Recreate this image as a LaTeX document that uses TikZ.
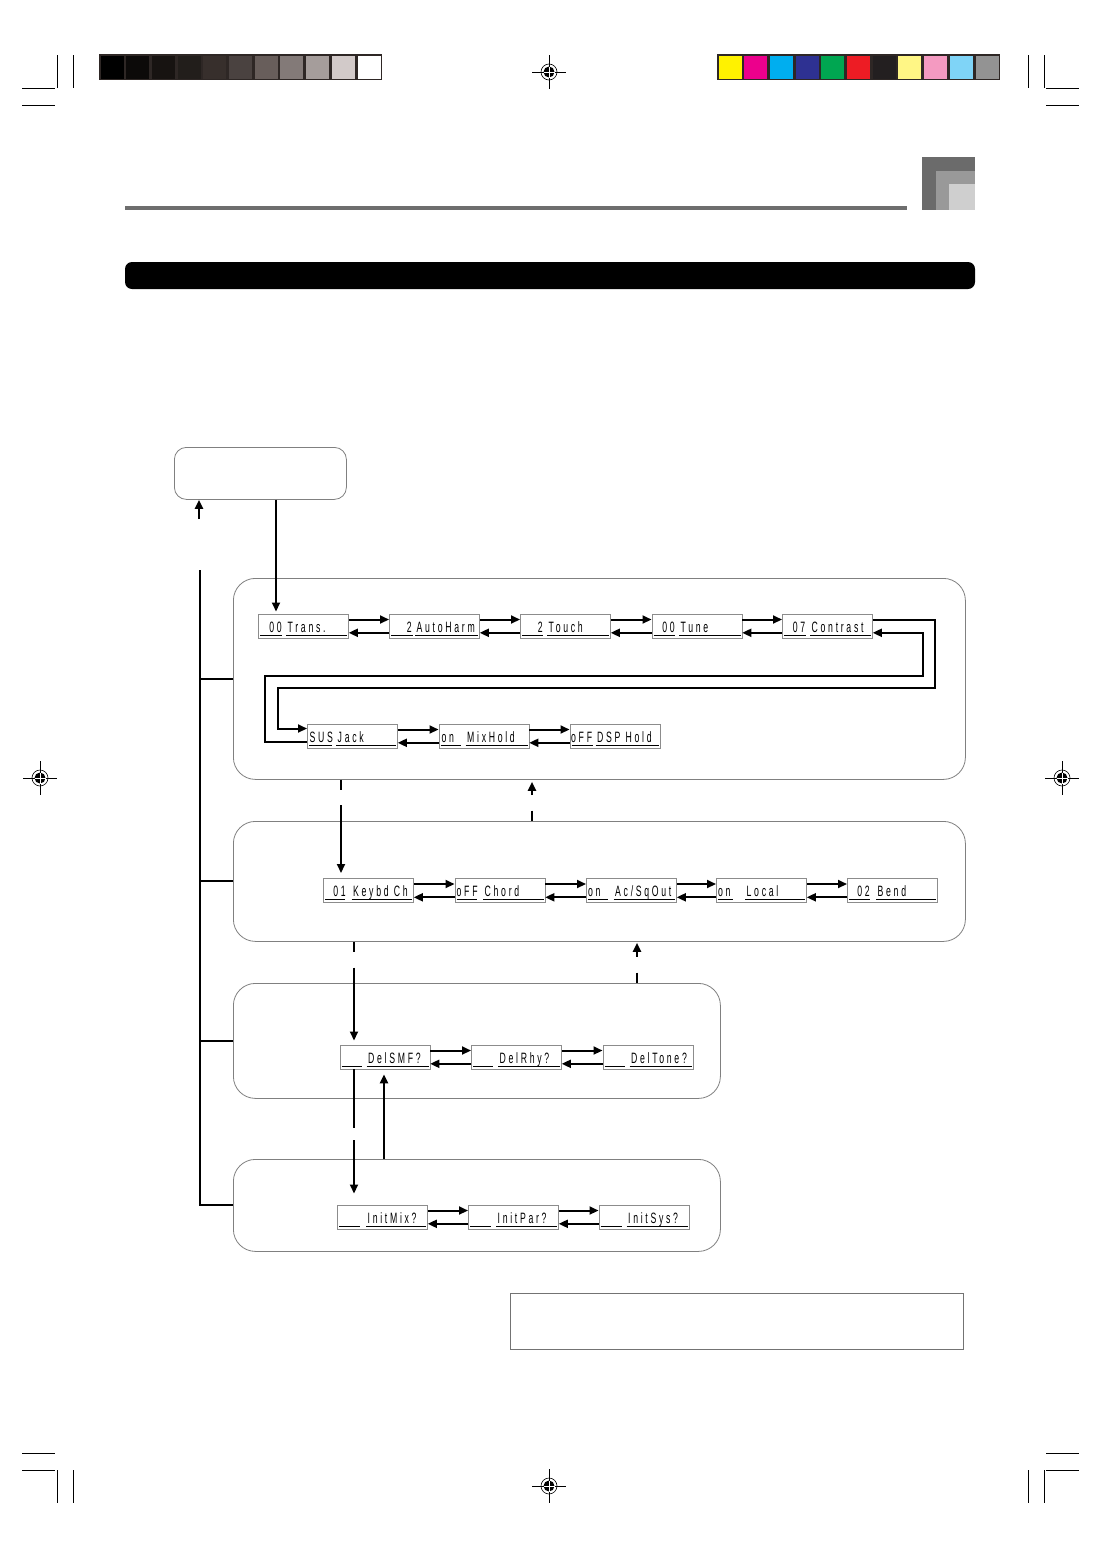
\documentclass[tikz,border=0pt]{standalone}
\usepackage{fontspec}
\usetikzlibrary{arrows.meta,calc}
\newfontfamily\lcdf[FakeStretch=0.58,LetterSpace=18]{Liberation Sans}

\tikzset{
 lcdbox/.style={draw=black!45, line width=0.8pt, minimum width=90pt, minimum height=24pt, inner sep=0pt, anchor=north west},
 uline/.style={line width=0.8pt},
 lcdtxt/.style={inner sep=0pt, font=\lcdf\fontsize{15}{15}\selectfont},
 arr/.style={line width=2pt, -{Triangle[length=9pt,width=8pt]}},
 ln/.style={line width=2pt},
 grp/.style={draw=black!50, line width=0.8pt, rounded corners=22pt, anchor=north west, inner sep=0pt},
 crop/.style={line width=0.7pt},
}

% name, x0, ytop, u1end, u2start, vdx, vanchor, value, label
\newcommand\lcd[9]{%
 \node[lcdbox] (#1) at (#2,#3) {};
 \draw[uline] ({#2+2},{#3+21.5}) -- ({#2+#4},{#3+21.5});
 \draw[uline] ({#2+#5},{#3+21.5}) -- ({#2+89},{#3+21.5});
 \node[lcdtxt, anchor=base #7] (#1v) at ({#2+#6},{#3+18.5}) {#8};
 \node[lcdtxt, anchor=base west] (#1l) at ({#2+#5+1.5},{#3+18.5}) {#9};
}
\newcommand\lcdpair[2]{%
 \draw[arr] ($(#1.north east)+(0,6)$) -- ($(#2.north west)+(0,6)$);
 \draw[arr] ($(#2.south west)+(0,-5.5)$) -- ($(#1.south east)+(0,-5.5)$);
}
\newcommand\regmark[2]{%
 \draw[line width=0.6pt] ({#1-17},#2) -- ({#1+17},#2) (#1,{#2-17}) -- (#1,{#2+17});
 \draw[line width=0.6pt] (#1,#2) circle[radius=8pt];
 \fill (#1,#2) circle[radius=5.5pt];
 \draw[white,line width=0.7pt] ({#1-5.5},#2) -- ({#1+5.5},#2) (#1,{#2-5.5}) -- (#1,{#2+5.5});
}

\begin{document}
\begin{tikzpicture}[x=1pt,y=-1pt]
\useasboundingbox (0,0) rectangle (1101,1558);
\fill[white] (0,0) rectangle (1101,1558);

% ---- crop marks
\draw[crop] (57,55) -- (57,88) (73,55) -- (73,88) (22,88) -- (55,88) (22,105) -- (55,105);
\draw[crop] (1044,55) -- (1044,88) (1028,55) -- (1028,88) (1046,88) -- (1079,88) (1046,105) -- (1079,105);
\draw[crop] (57,1470) -- (57,1503) (73,1470) -- (73,1503) (22,1470) -- (55,1470) (22,1453) -- (55,1453);
\draw[crop] (1044,1470) -- (1044,1503) (1028,1470) -- (1028,1503) (1046,1470) -- (1079,1470) (1046,1453) -- (1079,1453);

% ---- registration marks
\regmark{549}{72}
\regmark{549}{1486}
\regmark{40}{778}
\regmark{1062}{778}

% ---- gray and colour bars
\definecolor{barframe}{HTML}{2E2725}
\fill[barframe] (99,54) rectangle (382,80);
\foreach \c [count=\i from 0] in {000000,0C0A09,171311,221E1B,372F2C,4A4240,685E5B,837A78,A59D9B,D2CAC9,FFFFFF}{
  \definecolor{tmpc}{HTML}{\c}
  \fill[tmpc] ({100.5+\i*25.7},55.5) rectangle ({100.5+\i*25.7+23},78.5);
}
\fill[barframe] (717,54) rectangle (1000,80);
\foreach \c [count=\i from 0] in {FFF200,EC008C,00AEEF,2E3192,00A651,ED1C24,231F20,FFF685,F49AC1,7FD4F7,939393}{
  \definecolor{tmpc}{HTML}{\c}
  \fill[tmpc] ({718.5+\i*25.7},55.5) rectangle ({718.5+\i*25.7+23},78.5);
}

% ---- header
\fill[black!57] (125,206) rectangle (907,210);
\fill[black!58] (922,157) rectangle (975,210);
\fill[black!40] (935.5,170.5) rectangle (975,210);
\fill[black!19] (949,183.5) rectangle (975,210);
\fill[black, rounded corners=7pt] (125,262) rectangle (975,289);

% ---- boxes
\node[grp, rounded corners=12pt, minimum width=172pt, minimum height=52pt] (top) at (174,447) {};
\node[grp, minimum width=732pt, minimum height=201pt] (g1) at (233,578) {};
\node[grp, minimum width=732pt, minimum height=120pt] (g2) at (233,821) {};
\node[grp, minimum width=487pt, minimum height=115pt] (g3) at (233,983) {};
\node[grp, minimum width=487pt, minimum height=92pt] (g4) at (233,1159) {};
\node[draw=black!55, line width=0.8pt, anchor=north west, inner sep=0pt, minimum width=453pt, minimum height=56pt] (note) at (510,1293) {};

% ---- LCD displays
\lcd{trans}{258}{613.5}{24}{28}{24}{east}{00}{Trans.}
\lcd{aharm}{389}{613.5}{24}{26}{23}{east}{2}{AutoHarm}
\lcd{touch}{520}{613.5}{23}{27}{23}{east}{2}{Touch}
\lcd{tune}{651.5}{613.5}{23.5}{27.5}{23.5}{east}{00}{Tune}
\lcd{contr}{782}{613.5}{24}{28}{23.5}{east}{07}{Contrast}

\lcd{sus}{307}{723.5}{25}{29}{2.5}{west}{SUS}{Jack}
\lcd{mix}{438.5}{723.5}{22}{27}{3}{west}{on}{MixHold}
\lcd{dsp}{569.5}{723.5}{23}{26}{1.5}{west}{oFF}{DSP Hold}

\lcd{keyb}{323}{878}{22}{28.5}{23}{east}{01}{Keybd Ch}
\lcd{chord}{454.5}{878}{22}{28.5}{2}{west}{oFF}{Chord}
\lcd{acsq}{586}{878}{22}{27.5}{2}{west}{on}{Ac/SqOut}
\lcd{local}{716}{878}{17}{29}{2}{west}{on}{Local}
\lcd{bend}{847}{878}{23}{29}{23}{east}{02}{Bend}

\lcd{dsmf}{339.5}{1044.5}{22}{27}{3}{west}{}{DelSMF?}
\lcd{drhy}{471}{1044.5}{22}{27}{3}{west}{}{DelRhy?}
\lcd{dtone}{602.5}{1044.5}{22}{27}{3}{west}{}{DelTone?}

\lcd{imix}{337}{1204.5}{23}{29}{3}{west}{}{InitMix?}
\lcd{ipar}{468}{1204.5}{23}{28}{3}{west}{}{InitPar?}
\lcd{isys}{598.5}{1204.5}{23}{28}{3}{west}{}{InitSys?}

% ---- arrows between displays
\lcdpair{trans}{aharm}
\lcdpair{aharm}{touch}
\lcdpair{touch}{tune}
\lcdpair{tune}{contr}
\lcdpair{sus}{mix}
\lcdpair{mix}{dsp}
\lcdpair{keyb}{chord}
\lcdpair{chord}{acsq}
\lcdpair{acsq}{local}
\lcdpair{local}{bend}
\lcdpair{dsmf}{drhy}
\lcdpair{drhy}{dtone}
\lcdpair{imix}{ipar}
\lcdpair{ipar}{isys}

% wrap-around between Contrast and SUS Jack
\coordinate (ra) at (934.5,688);
\coordinate (la) at (277.5,688);
\coordinate (rb) at (922.5,676);
\coordinate (lb) at (264.5,676);
\draw[arr] ($(contr.north east)+(0,6)$) -| (ra) -- (la) |- ($(sus.north west)+(0,5)$);
\draw[arr] ($(sus.south west)+(0,-6)$) -| (lb) -- (rb) |- ($(contr.south east)+(0,-5.5)$);

% ---- top box connections
\draw[arr, shorten >=2pt] ($(top.south west)+(102,0)$) -- ($(trans.north west)+(18,0)$);
\coordinate (upstart) at (199,519);
\draw[arr] (upstart) -- (upstart |- top.south);

% ---- left bus
\coordinate (bustop) at (200,570);
\draw[ln] (bustop) |- (g4.west);
\foreach \g in {g1,g2,g3}{\draw[ln] (\g.west) -- (\g.west -| bustop);}

% ---- connectors between groups
\coordinate (c1a) at (341,789.5); \coordinate (c1b) at (341,805);
\draw[ln] (c1a |- g1.south) -- (c1a);
\draw[arr, shorten >=5pt] (c1b) -- (c1b |- keyb.north);

\coordinate (c2a) at (532,795); \coordinate (c2b) at (532,810.5);
\draw[arr, shorten >=2pt] (c2a) -- (c2a |- g1.south);
\draw[ln] (c2b) -- (c2b |- g2.north);

\coordinate (c3a) at (354,951.5); \coordinate (c3b) at (354,967.5);
\draw[ln] (c3a |- g2.south) -- (c3a);
\draw[arr, shorten >=4pt] (c3b) -- (c3b |- dsmf.north);

\coordinate (c4a) at (637,956.5); \coordinate (c4b) at (637,972.5);
\draw[arr, shorten >=1pt] (c4a) -- (c4a |- g2.south);
\draw[ln] (c4b) -- (c4b |- g3.north);

\coordinate (c5a) at (354,1128); \coordinate (c5b) at (354,1140);
\draw[ln] (c5a |- dsmf.south) -- (c5a);
\draw[arr, shorten >=11pt] (c5b) -- (c5b |- imix.north);

\coordinate (c6) at (384,1159);
\draw[arr, shorten >=5pt] (c6) -- (c6 |- dsmf.south);
\end{tikzpicture}
\end{document}
